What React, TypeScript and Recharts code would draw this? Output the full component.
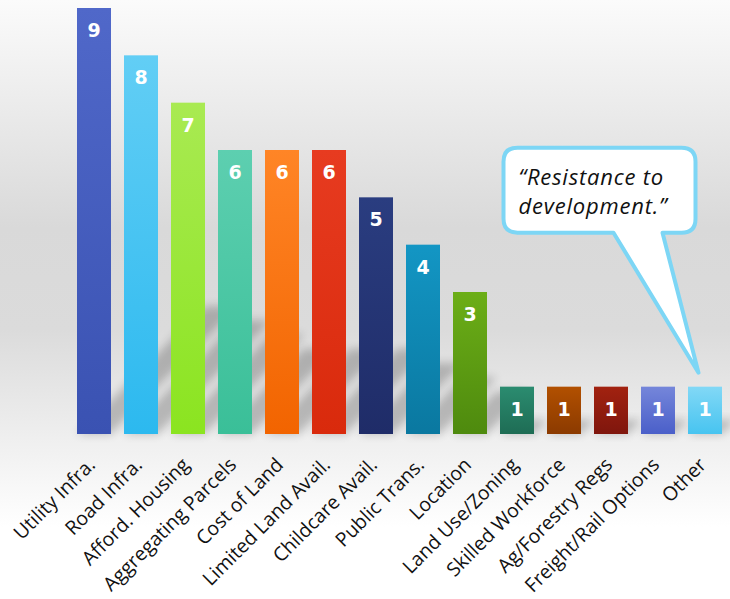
import React from 'react';
import { BarChart, Bar, XAxis, YAxis, LabelList, ReferenceDot } from 'recharts';

const categories = [
  'Utility Infra.',
  'Road Infra.',
  'Afford. Housing',
  'Aggregating Parcels',
  'Cost of Land',
  'Limited Land Avail.',
  'Childcare Avail.',
  'Public Trans.',
  'Location',
  'Land Use/Zoning',
  'Skilled Workforce',
  'Ag/Forestry Regs',
  'Freight/Rail Options',
  'Other',
];
const counts = [9, 8, 7, 6, 6, 6, 5, 4, 3, 1, 1, 1, 1, 1];

const topColors = [
  '#5068C9', '#62CEF5', '#A9EA52', '#5DCFB0', '#FF8526', '#E73B20', '#2A3D80',
  '#1396C4', '#6CAE17', '#2B8C70', '#B25000', '#A22210', '#7586DA', '#82D8F6',
];
const bottomColors = [
  '#3A52B2', '#2CB9EF', '#8BE420', '#3ABF98', '#F26400', '#D92A0C', '#1F2C68',
  '#0A78A0', '#4E8A0E', '#1E6C54', '#8B3A00', '#7F160D', '#4A5FC9', '#47C4F0',
];

const data = categories.map((name, i) => ({ name, value: counts[i] }));

const GradientBar = (props: any) => {
  const { x, y, width, height, index } = props;
  const base = y + height;
  const len = height * 0.3;
  const shadow = `${x},${base} ${x + width},${base} ${x + width + len},${base - len} ${x + len},${base - len}`;
  return (
    <g>
      <polygon points={shadow} fill="#000" opacity={0.22} filter="url(#shadowBlur)" />
      <rect x={x} y={y} width={width} height={height} fill={`url(#barGrad${index})`} />
    </g>
  );
};

const ValueLabel = (props: any) => {
  const { x, y, width, value } = props;
  return (
    <text
      x={x + width / 2}
      y={y + 29}
      textAnchor="middle"
      fill="#fff"
      fontFamily="DejaVu Sans"
      fontWeight="bold"
      fontSize={19}
    >
      {value}
    </text>
  );
};

const AngledTick = (props: any) => {
  const { x, payload } = props;
  const ax = x + 3;
  const ay = 466;
  return (
    <text
      x={ax}
      y={ay}
      transform={`rotate(-45, ${ax}, ${ay})`}
      textAnchor="end"
      fill="#111"
      fontFamily="Open Sans"
      fontSize={19.5}
    >
      {payload.value}
    </text>
  );
};

const Bubble = (props: any) => {
  const { cx, cy } = props;
  const tx = cx - 6;
  const ty = cy - 14;
  const l = tx - 195;
  const r = tx - 3;
  const t = ty - 225;
  const b = ty - 140;
  const rad = 14;
  const path = [
    `M ${l + rad} ${t}`,
    `L ${r - rad} ${t}`,
    `Q ${r} ${t} ${r} ${t + rad}`,
    `L ${r} ${b - rad}`,
    `Q ${r} ${b} ${r - rad} ${b}`,
    `L ${tx - 36} ${b}`,
    `L ${tx} ${ty}`,
    `L ${tx - 85} ${b}`,
    `L ${l + rad} ${b}`,
    `Q ${l} ${b} ${l} ${b - rad}`,
    `L ${l} ${t + rad}`,
    `Q ${l} ${t} ${l + rad} ${t}`,
    'Z',
  ].join(' ');
  return (
    <g>
      <path d={path} fill="#fff" stroke="#7DD6F5" strokeWidth={4} strokeLinejoin="round" />
      <text fontFamily="Open Sans" fontStyle="italic" fontSize={22} letterSpacing={0.8} fill="#111">
        <tspan x={l + 15} y={t + 37}>“Resistance to</tspan>
        <tspan x={l + 15} y={t + 66}>development.”</tspan>
      </text>
    </g>
  );
};

export default function App() {
  return (
    <div
      style={{
        position: 'fixed',
        top: 0,
        left: 0,
        width: 730,
        height: 599,
        background:
          'linear-gradient(to bottom, #fbfbfb 0%, #d9d9d9 38%, #dbdbdb 55%, #ffffff 88%, #ffffff 100%)',
      }}
    >
      <BarChart
        width={730}
        height={599}
        data={data}
        margin={{ top: 8, right: 2, left: 70, bottom: 0 }}
        barSize={34}
      >
        <defs>
          <filter id="shadowBlur" x="-50%" y="-50%" width="200%" height="200%">
            <feGaussianBlur stdDeviation="5" />
          </filter>
          {topColors.map((c, i) => (
            <linearGradient key={i} id={`barGrad${i}`} x1="0" y1="0" x2="0" y2="1">
              <stop offset="0%" stopColor={c} />
              <stop offset="100%" stopColor={bottomColors[i]} />
            </linearGradient>
          ))}
        </defs>
        <XAxis
          dataKey="name"
          interval={0}
          height={165}
          axisLine={false}
          tickLine={false}
          tick={<AngledTick />}
        />
        <YAxis hide domain={[0, 9]} />
        <Bar dataKey="value" shape={<GradientBar />} isAnimationActive={false}>
          <LabelList dataKey="value" content={<ValueLabel />} />
        </Bar>
        <ReferenceDot x="Other" y={1} r={0} ifOverflow="visible" shape={<Bubble />} />
      </BarChart>
    </div>
  );
}
